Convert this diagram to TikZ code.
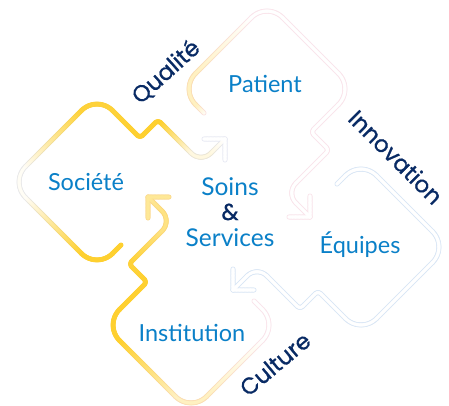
\documentclass[tikz,border=0pt]{standalone}
\usepackage{fontspec}
\setmainfont{Lato}
\newfontfamily\navyfont[FakeBold=0.8]{Poppins}
\definecolor{yel}{RGB}{254,208,48}
\definecolor{lblue}{RGB}{10,128,200}
\definecolor{navy}{RGB}{8,42,100}
\definecolor{pinkol}{RGB}{250,228,235}
\definecolor{blueol}{RGB}{218,231,246}
\definecolor{greyol}{RGB}{232,234,244}
\colorlet{olc}{pinkol}
\def\Ipass{1}
\tikzset{
  lbl/.style={text=lblue, font=\fontsize{23.5}{26}\selectfont, inner sep=0pt, anchor=base},
  lblc/.style={lbl, font=\fontsize{24.5}{27}\selectfont},
  nv/.style={text=navy, font=\navyfont\fontsize{23}{27}\selectfont, inner sep=0pt},
}
% one dot of the stroke
\newcommand\gdot[3]{%
  \pgfmathsetmacro\gx{#1}\pgfmathsetmacro\gy{#2}\pgfmathsetmacro\gq{max(0,min(100,#3))}%
  \ifnum\Ipass=1 \fill[yel!\gq!olc] (\gx,\gy) circle (2.5pt);\else\fill[yel!\gq!white] (\gx,\gy) circle (1.8pt);\fi}
% straight piece with graded colour
\newcommand\gl[6]{%
  \pgfmathsetmacro\gLen{veclen((#3)-(#1),(#4)-(#2))}%
  \pgfmathtruncatemacro\gN{max(1,round(\gLen/0.8))}%
  \foreach \k in {0,...,\gN}{%
    \pgfmathsetmacro\gt{\k/\gN}%
    \gdot{(#1)+((#3)-(#1))*\gt}{(#2)+((#4)-(#2))*\gt}{100*((#5)+((#6)-(#5))*\gt)}%
  }}
% arc piece, constant colour
\newcommand\ga[6]{%
  \pgfmathtruncatemacro\gN{max(1,round(abs((#5)-(#4))*0.0174533*(#3)/0.8))}%
  \foreach \k in {0,...,\gN}{%
    \pgfmathsetmacro\ang{(#4)+((#5)-(#4))*\k/\gN}%
    \gdot{(#1)+(#3)*cos(\ang)}{(#2)+(#3)*sin(\ang)}{100*(#6)}%
  }}
% intensities at: start, corner B, corner L, corner T, zig1, zig2, V, tip
\newcommand\loopshape[8]{%
  \gl{-108}{34}{-116.444}{42.444}{#1}{#2}
  \ga{-132}{26.889}{22}{45}{135}{#2}
  \gl{-147.556}{42.444}{-203.444}{-13.444}{#2}{#3}
  \ga{-187.889}{-29}{22}{135}{225}{#3}
  \gl{-203.444}{-44.556}{-147.556}{-100.444}{#3}{#4}
  \ga{-132}{-84.889}{22}{225}{315}{#4}
  \gl{-116.444}{-100.444}{-91.828}{-75.828}{#4}{#5}
  \ga{-89}{-78.657}{4}{135}{45}{#5}
  \gl{-86.172}{-75.828}{-73.828}{-88.172}{#5}{#6}
  \ga{-71}{-85.343}{4}{225}{315}{#6}
  \gl{-68.172}{-88.172}{-37.9}{-57.9}{#6}{#7}
  \ga{-28}{-67.799}{14}{135}{45}{#7}
  \gl{-18.1}{-57.9}{-4}{-72}{#7}{#8}
  \gl{-25}{-72}{-4}{-72}{#8}{#8}
  \gl{-4}{-72}{-4}{-51}{#8}{#8}
}
\begin{document}
\begin{tikzpicture}[x=1pt,y=-1pt]
\useasboundingbox[fill=white] (0,0) rectangle (449,405);
\foreach \pp in {1,2}{
  \edef\Ipass{\pp}
  \begin{scope}[shift={(229,211)}]
    \colorlet{olc}{greyol}
    \loopshape{1}{1}{0.05}{0.95}{1}{1}{0.15}{0}
  \end{scope}
  \begin{scope}[shift={(238,221)}, rotate=-90]
    \colorlet{olc}{pinkol}
    \loopshape{0.05}{0.3}{0}{0}{0}{0}{0}{0}
  \end{scope}
  \begin{scope}[shift={(229,218)}, rotate=180]
    \colorlet{olc}{blueol}
    \loopshape{0}{0}{0}{0}{0}{0}{0}{0}
  \end{scope}
  \begin{scope}[shift={(220,193)}, rotate=90]
    \colorlet{olc}{pinkol}
    \loopshape{0}{0}{0.3}{1}{1}{0.95}{0.6}{0.5}
  \end{scope}
}
\node[lbl] (pat) at (265,92) {Patient};
\node[lbl] (soc) at (86,190) {Société};
\node[lbl] (equ) at (360,253) {Équipes};
\node[lbl] (ins) at (192,341) {Institution};
\node[lblc] (soins) at (230,195) {Soins};
\node[nv, anchor=base] (amp) at (230,220) {\&};
\node[lblc] (serv) at (230,246) {Services};
\node[nv, rotate=42] (qual) at (166,72) {Qualité};
\node[nv, rotate=-45] (inno) at (396,157) {Innovation};
\node[nv, rotate=40] (cult) at (275,364) {Culture};
\end{tikzpicture}
\end{document}
